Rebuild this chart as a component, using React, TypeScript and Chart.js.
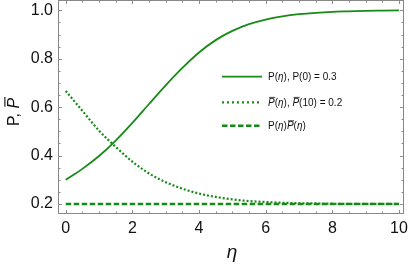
import React, { useEffect, useRef } from "react";
import { Chart, registerables } from "chart.js";

Chart.register(...registerables);

const eta = [0, 0.5, 1, 1.5, 2, 2.5, 3, 3.5, 4, 4.5, 5, 5.5, 6, 6.5, 7, 7.5, 8, 8.5, 9, 9.5, 10];
const pValues = [0.3, 0.345, 0.398, 0.462, 0.535, 0.613, 0.69, 0.762, 0.826, 0.877, 0.915, 0.943, 0.962, 0.975, 0.984, 0.99, 0.994, 0.996, 0.998, 0.999, 1.0];
const pBarValues = [0.667, 0.585, 0.503, 0.436, 0.375, 0.326, 0.29, 0.263, 0.243, 0.229, 0.219, 0.212, 0.208, 0.205, 0.203, 0.202, 0.201, 0.2, 0.2, 0.2, 0.2];
const productValues = [0.2, 0.2, 0.2, 0.2, 0.2, 0.2, 0.2, 0.2, 0.2, 0.2, 0.2, 0.2, 0.2, 0.2, 0.2, 0.2, 0.2, 0.2, 0.2, 0.2, 0.2];

const xTicks = [0, 2, 4, 6, 8, 10];
const yTicks = [0.2, 0.4, 0.6, 0.8, 1.0];

type Seg = { t: string; italic?: boolean; bar?: boolean };
const legendRows: { segs: Seg[]; dash: number[]; width: number }[] = [
  { segs: [{ t: "P(" }, { t: "η", italic: true }, { t: "), P(0) = 0.3" }], dash: [], width: 1.8 },
  {
    segs: [
      { t: "P", italic: true, bar: true },
      { t: "(" },
      { t: "η", italic: true },
      { t: "), " },
      { t: "P", italic: true, bar: true },
      { t: "(10) = 0.2" },
    ],
    dash: [2, 3],
    width: 2.2,
  },
  {
    segs: [
      { t: "P(" },
      { t: "η", italic: true },
      { t: ")" },
      { t: "P", italic: true, bar: true },
      { t: "(" },
      { t: "η", italic: true },
      { t: ")" },
    ],
    dash: [5.5, 2.5],
    width: 2.5,
  },
];

const GREEN = "#178a17";
const FONT = "'Liberation Sans', Arial, sans-serif";

function drawRich(ctx: CanvasRenderingContext2D, segs: Seg[], x: number, y: number, size: number) {
  let cx = x;
  for (const s of segs) {
    ctx.font = `${s.italic ? "italic " : ""}${size}px ${FONT}`;
    const w = ctx.measureText(s.t).width;
    ctx.fillText(s.t, cx, y);
    if (s.bar) {
      ctx.beginPath();
      ctx.lineWidth = Math.max(0.8, size / 14);
      ctx.strokeStyle = ctx.fillStyle as string;
      const yy = y - size * 0.85;
      ctx.moveTo(cx + size * 0.12, yy);
      ctx.lineTo(cx + w + size * 0.05, yy);
      ctx.stroke();
    }
    cx += w;
  }
  return cx - x;
}

function richWidth(ctx: CanvasRenderingContext2D, segs: Seg[], size: number) {
  let w = 0;
  for (const s of segs) {
    ctx.font = `${s.italic ? "italic " : ""}${size}px ${FONT}`;
    w += ctx.measureText(s.t).width;
  }
  return w;
}

const framePlugin = {
  id: "framePlugin",
  afterDraw(chart: any) {
    const ctx: CanvasRenderingContext2D = chart.ctx;
    const { left, right, top, bottom } = chart.chartArea;
    const xs = chart.scales.x;
    const ys = chart.scales.y;
    ctx.save();
    ctx.strokeStyle = "#8a8a8a";
    ctx.lineWidth = 1;
    ctx.beginPath();
    for (let v = 0; v <= 10.0001; v += 0.5) {
      const px = Math.round(xs.getPixelForValue(v)) + 0.5;
      const major = Math.abs(v / 2 - Math.round(v / 2)) < 1e-6;
      const len = major ? 4 : 2.5;
      ctx.moveTo(px, bottom);
      ctx.lineTo(px, bottom - len);
      ctx.moveTo(px, top);
      ctx.lineTo(px, top + len);
    }
    for (let i = 0; i * 0.05 + 0.2 <= 1.04; i++) {
      const v = 0.2 + i * 0.05;
      const py = Math.round(ys.getPixelForValue(v)) + 0.5;
      const major = i % 4 === 0;
      const len = major ? 4 : 2.5;
      ctx.moveTo(left, py);
      ctx.lineTo(left + len, py);
      ctx.moveTo(right, py);
      ctx.lineTo(right - len, py);
    }
    ctx.stroke();
    ctx.strokeStyle = "#888";
    ctx.strokeRect(left + 0.5, top + 0.5, right - left - 1, bottom - top - 1);

    const rowsY = [76.7, 102.3, 125.7];
    legendRows.forEach((r, i) => {
      const y = rowsY[i];
      ctx.beginPath();
      ctx.strokeStyle = GREEN;
      ctx.lineWidth = r.width;
      ctx.setLineDash(r.dash);
      ctx.moveTo(222, y);
      ctx.lineTo(262, y);
      ctx.stroke();
      ctx.setLineDash([]);
      ctx.fillStyle = "#111";
      ctx.textAlign = "left";
      ctx.textBaseline = "alphabetic";
      drawRich(ctx, r.segs, 268, y + 3.6, 10);
    });

    ctx.fillStyle = "#111";
    ctx.font = `italic 19px ${FONT}`;
    ctx.textAlign = "center";
    ctx.textBaseline = "alphabetic";
    ctx.fillText("η", 232, 258);

    ctx.save();
    ctx.translate(18.5, 112);
    ctx.rotate(-Math.PI / 2);
    ctx.textAlign = "left";
    const ySegs: Seg[] = [{ t: "P, " }, { t: "P", italic: true, bar: true }];
    const w = richWidth(ctx, ySegs, 16);
    drawRich(ctx, ySegs, -w / 2, 0, 16);
    ctx.restore();

    ctx.restore();
  },
};

export default function App() {
  const ref = useRef<HTMLCanvasElement | null>(null);
  useEffect(() => {
    document.body.style.margin = "0";
    const canvas = ref.current!;
    const mk = (vals: number[]) => eta.map((x, i) => ({ x, y: vals[i] }));
    const chart = new Chart(canvas, {
      type: "line",
      data: {
        datasets: [
          {
            label: "product",
            data: mk(productValues),
            borderColor: GREEN,
            borderWidth: 2.5,
            borderDash: [5.5, 2.5],
            pointRadius: 0,
            tension: 0,
          },
          {
            label: "pbar",
            data: mk(pBarValues),
            borderColor: GREEN,
            borderWidth: 2.2,
            borderDash: [2, 2],
            pointRadius: 0,
            cubicInterpolationMode: "monotone",
          },
          {
            label: "p",
            data: mk(pValues),
            borderColor: GREEN,
            borderWidth: 1.8,
            pointRadius: 0,
            cubicInterpolationMode: "monotone",
          },
        ],
      },
      options: {
        animation: false,
        responsive: false,
        maintainAspectRatio: false,
        devicePixelRatio: 1,
        layout: { padding: { top: 0, right: 5, left: 0, bottom: 0 } },
        plugins: { legend: { display: false }, tooltip: { enabled: false } },
        scales: {
          x: {
            type: "linear",
            min: -0.231,
            max: 10.15,
            grid: { display: false, drawTicks: false },
            border: { display: false },
            afterFit: (s: any) => {
              s.height = 54;
              s.paddingLeft = 0;
              s.paddingRight = 0;
            },
            afterBuildTicks: (s: any) => {
              s.ticks = xTicks.map((v) => ({ value: v }));
            },
            ticks: {
              color: "#111",
              font: { family: FONT, size: 16 },
              padding: 5,
              maxRotation: 0,
              autoSkip: false,
              callback: (v: any) => String(v),
            },
          },
          y: {
            type: "linear",
            min: 0.1585,
            max: 1.0428,
            grid: { display: false, drawTicks: false },
            border: { display: false },
            afterFit: (s: any) => {
              s.width = 58;
              s.paddingTop = 0;
              s.paddingBottom = 0;
            },
            afterBuildTicks: (s: any) => {
              s.ticks = yTicks.map((v) => ({ value: v }));
            },
            ticks: {
              color: "#111",
              font: { family: FONT, size: 16 },
              padding: 5,
              autoSkip: false,
              callback: (v: any) => Number(v).toFixed(1),
            },
          },
        },
      },
      plugins: [framePlugin],
    } as any);
    return () => chart.destroy();
  }, []);
  return (
    <div style={{ position: "absolute", left: 0, top: 0, width: 409, height: 268, background: "#fff" }}>
      <canvas ref={ref} width={409} height={268} style={{ width: 409, height: 268, display: "block" }} />
    </div>
  );
}
